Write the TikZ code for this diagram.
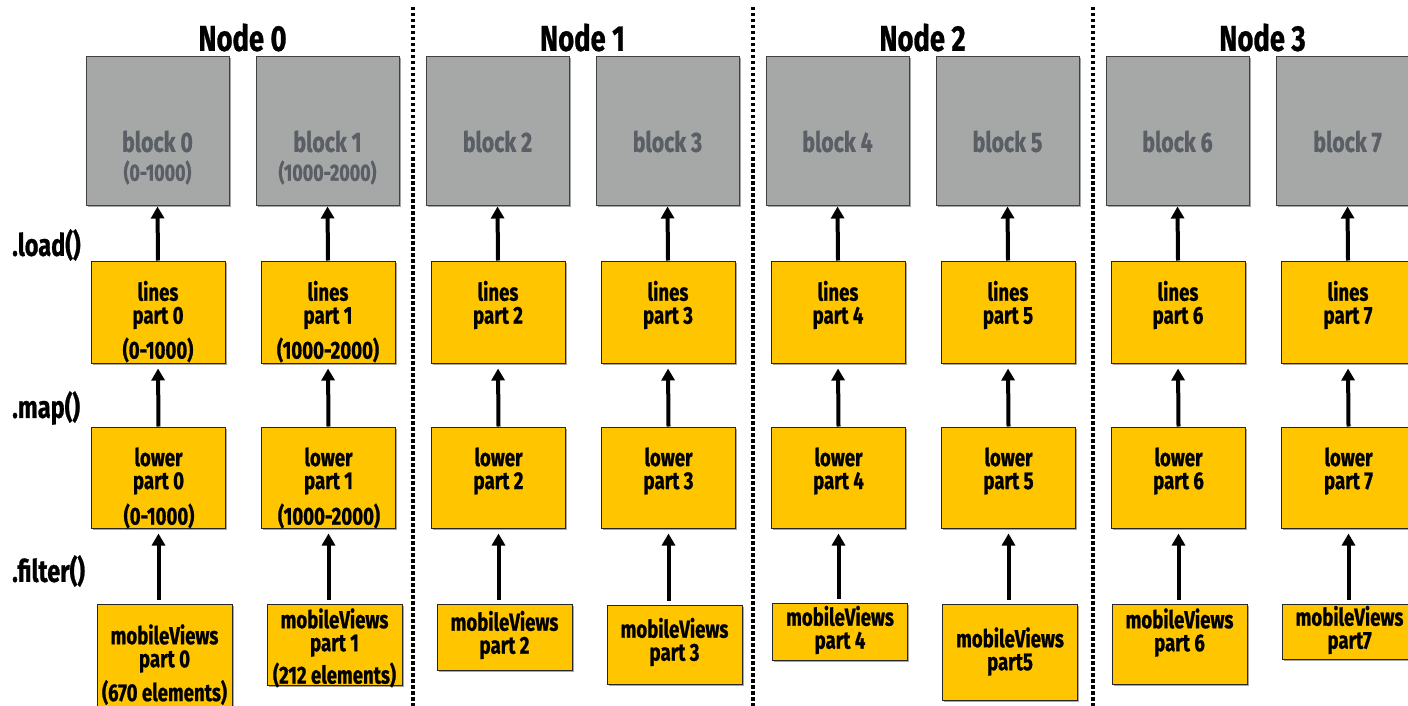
\documentclass[tikz,border=0pt]{standalone}
\usepackage{fontspec}
\newfontfamily\cond{Fira Sans}[FakeStretch=0.76,FakeBold=0.8]
\usetikzlibrary{arrows.meta,shadows}
\definecolor{partyellow}{RGB}{255,198,0}
\definecolor{blockgray}{RGB}{165,168,167}
\definecolor{blocktext}{RGB}{90,94,101}
\tikzset{
  shadowed/.style={drop shadow={shadow xshift=1.5pt,shadow yshift=-1.5pt,fill=black,opacity=0.35}},
  blockbox/.style={draw=black!75,line width=1pt,fill=blockgray,minimum width=143pt,minimum height=148pt,inner sep=0pt,shadowed},
  partbox/.style={draw=black!85,line width=1pt,fill=partyellow,minimum width=134pt,inner sep=0pt,shadowed},
  viewbox/.style={partbox,minimum width=135pt},
  maintext/.style={font=\cond\bfseries\fontsize{24.5}{23}\selectfont,align=center,inner sep=0pt},
  subtext/.style={maintext},
  graytext/.style={font=\cond\bfseries\fontsize{28}{30}\selectfont,text=blocktext,inner sep=0pt},
  graysub/.style={font=\cond\bfseries\fontsize{23.5}{25}\selectfont,text=blocktext,inner sep=0pt},
  titletext/.style={font=\cond\bfseries\fontsize{36}{40}\selectfont,inner sep=0pt},
  optext/.style={font=\cond\bfseries\fontsize{31}{33}\selectfont,inner sep=0pt,anchor=west},
  uparrow/.style={line width=4pt,-{Triangle[length=12pt,width=13pt]}},
  separator/.style={line width=4pt,dash pattern=on 3.5pt off 2.5pt}
}
\begin{document}
\begin{tikzpicture}[x=1pt,y=-1pt]
\useasboundingbox (0,0) rectangle (1408,706);
\clip (0,0) rectangle (1408,706);

% cluster separators
\foreach \s in {413,753,1093}{
  \draw[separator] (\s,7) -- (\s,706);
}

% cluster titles
\foreach \j in {0,...,3}{
  \node[titletext] (title\j) at (242.5+340*\j,37.5) {Node \j};
}

% operation labels
\node[optext] (opload) at (12,245) {.load()};
\node[optext] (opmap) at (12,408) {.map()};
\node[optext] (opfilter) at (12,571) {.filter()};

% blocks, lines partitions and lower partitions
\foreach \k in {0,...,7}{
  \pgfmathsetmacro\c{157.5+170*\k}
  \node[blockbox] (b\k) at (\c,131) {};
  \node[graytext] (bt\k) at (\c,141.5) {block \k};
  \node[partbox,minimum height=102pt] (l\k) at (\c+0.5,312) {};
  \node[maintext] (lt\k) at (\c+0.5,305) {lines\\part \k};
  \node[partbox,minimum height=101pt] (w\k) at (\c+1,477.5) {};
  \node[maintext] (wt\k) at (\c+1,471) {lower\\part \k};
  \draw[uparrow,shorten >=1pt] (l\k.north) -- (b\k.south);
  \draw[uparrow,shorten >=5pt] (w\k.north) -- (l\k.south);
}

% key ranges of the first two partitions
\node[graysub] (bs0) at (157.5,172.5) {(0-1000)};
\node[graysub] (bs1) at (327.5,172.5) {(1000-2000)};
\node[subtext] (ls0) at (158,350) {(0-1000)};
\node[subtext] (ls1) at (328,350) {(1000-2000)};
\node[subtext] (ws0) at (159,516) {(0-1000)};
\node[subtext] (ws1) at (329,516) {(1000-2000)};

% filtered partitions
\foreach \k/\cx/\cy/\h/\ty/\lab in {
  0/164.5/660/112/648.5/part 0,
  1/334.5/644.5/81/632.5/part 1,
  2/504.5/637/66/635/part 2,
  3/674.5/644.5/79/642/part 3,
  4/840/631.5/57/630/part 4,
  5/1010/652/96/651.5/part5,
  6/1179.5/644/80/632.5/part 6,
  7/1349.5/631.5/55/630/part7}{
  \node[viewbox,minimum height=\h] (m\k) at (\cx,\cy) {};
  \node[maintext] (mt\k) at (\cx,\ty) {mobileViews\\\lab};
  \draw[uparrow,shorten <=4pt,shorten >=5pt] (w\k.south |- m\k.north) -- (w\k.south);
}
\node[subtext] (ms0) at (164.5,692.5) {(670 elements)};
\node[subtext] (ms1) at (334.5,675) {(212 elements)};
\end{tikzpicture}
\end{document}
